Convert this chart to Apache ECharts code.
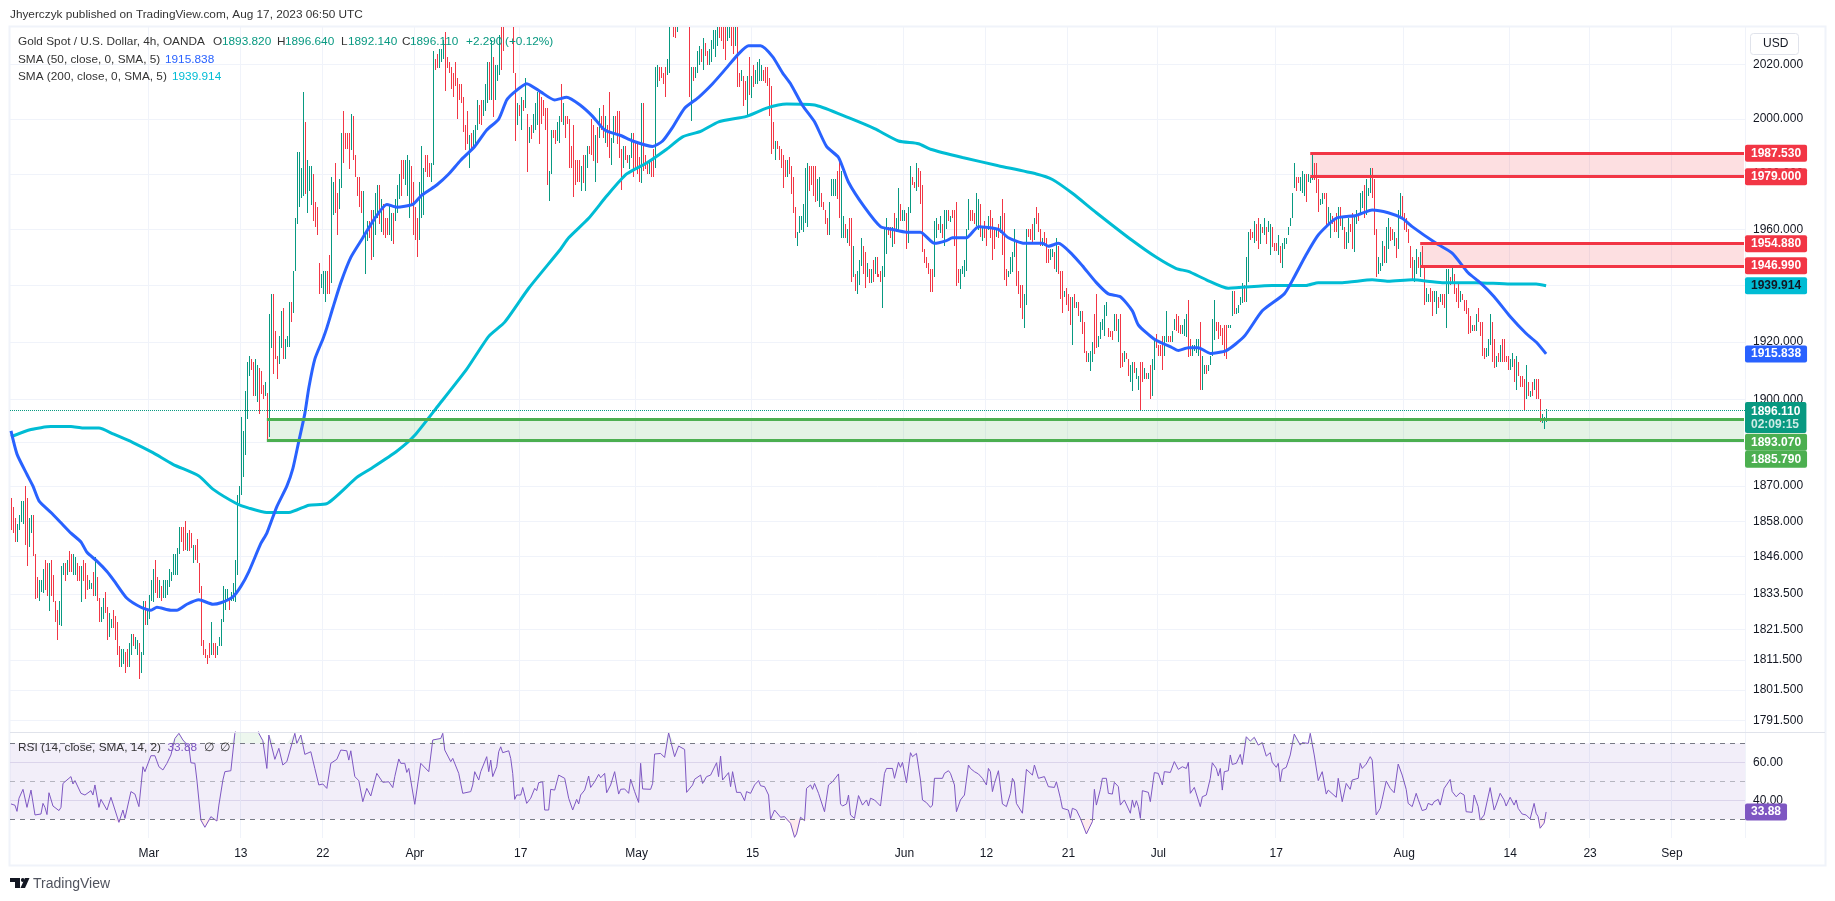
<!DOCTYPE html>
<html>
<head>
<meta charset="utf-8">
<title>Gold Spot / U.S. Dollar, 4h</title>
<script src="https://cdn.jsdelivr.net/npm/echarts@6/dist/echarts.min.js"></script>
<style>
  html, body { margin: 0; padding: 0; background: #fff; }
  #chart { width: 1835px; height: 901px; }
</style>
</head>
<body>
<div id="chart"></div>
<script>
// 4h bars, one row per 10 bars
const barHighs = [
  1866,1863,1859,1857,1860,1865,1865,1870,1866,1859,
  1860,1860,1847,1839,1838,1838,1842,1845,1844,1844,
  1845,1840,1831,1828,1831,1843,1844,1844,1845,1848,
  1847,1847,1846,1844,1843,1843,1845,1844,1840,1838,
  1837,1841,1846,1839,1832,1829,1832,1834,1829,1827,
  1825,1828,1826,1824,1816,1815,1815,1814,1815,1817,
  1820,1820,1819,1818,1817,1814,1831,1831,1828,1833,
  1838,1842,1845,1839,1838,1836,1838,1838,1838,1842,
  1841,1847,1847,1849,1856,1856,1856,1858,1854,1855,
  1854,1850,1850,1852,1844,1836,1818,1815,1813,1817,
  1824,1817,1817,1816,1819,1825,1836,1835,1835,1832,
  1834,1837,1845,1867,1870,1894,1889,1903,1913,1915,
  1914,1913,1914,1912,1911,1910,1905,1906,1902,1930,
  1937,1937,1924,1915,1922,1931,1932,1921,1922,1934,
  1934,1945,1964,1988,1988,1982,2010,1999,1985,1983,
  1983,1980,1970,1968,1948,1944,1945,1945,1945,1951,
  1979,1977,1984,1973,1978,1995,2003,1995,1995,1995,
  2002,2001,1987,1979,1979,1974,1974,1958,1963,1963,
  1967,1967,1973,1976,1976,1971,1969,1964,1964,1969,
  1966,1966,1971,1976,1980,1985,1985,1985,1987,1985,
  1983,1977,1968,1964,1977,1990,1982,1987,1987,1984,
  1984,2025,2022,2024,2026,2026,2029,2032,2023,2021,
  2019,2017,2021,2015,2013,2013,2008,1998,2003,1994,
  1995,1996,1998,2007,2005,2007,2007,2013,2021,2021,
  2029,2023,2020,2020,2031,2034,2034,2042,2044,2048,
  2046,2040,2017,2006,2005,2008,2007,2015,2002,1997,
  1998,2002,2006,2010,2010,2008,2007,2004,2004,1981,
  1996,1996,1996,1999,2001,2013,2006,2001,2001,2000,
  1990,1998,1985,1985,1985,1983,1987,1987,1990,1990,
  2000,1998,1994,1997,2004,2001,2005,2001,1998,2010,
  1993,2001,2001,2003,2003,1989,1990,1990,1987,1987,
  1995,1995,1992,1992,1986,2006,2006,1987,1984,1985,
  1985,1989,2019,2020,2019,2019,2017,2019,2022,2034,
  2041,2038,2037,2037,2043,2044,2048,2047,2046,2040,
  2019,2019,2019,2025,2027,2026,2030,2028,2025,2026,
  2029,2033,2033,2034,2036,2036,2036,2036,2036,2036,
  2036,2036,2036,2036,2017,2018,2016,2014,2016,2023,
  2016,2020,2018,2021,2022,2020,2018,2019,2019,2015,
  2012,1999,1992,1992,1990,1989,1987,1985,1985,1986,
  1983,1979,1968,1959,1965,1965,1969,1982,1984,1983,
  1983,1983,1983,1978,1979,1973,1970,1967,1964,1970,
  1978,1978,1978,1981,1985,1981,1965,1962,1960,1964,
  1964,1954,1944,1945,1949,1957,1954,1952,1948,1946,
  1946,1949,1950,1950,1944,1945,1947,1961,1964,1961,
  1961,1961,1966,1964,1975,1969,1967,1967,1966,1968,
  1983,1979,1977,1984,1982,1981,1976,1953,1950,1948,
  1946,1946,1963,1964,1962,1965,1962,1967,1967,1967,
  1965,1967,1967,1970,1946,1946,1947,1949,1960,1971,
  1967,1967,1966,1973,1971,1969,1961,1963,1960,1965,
  1967,1964,1960,1960,1962,1965,1971,1966,1946,1945,
  1950,1952,1960,1956,1945,1940,1940,1937,1960,1960,
  1960,1962,1964,1968,1966,1960,1957,1959,1957,1953,
  1953,1953,1952,1957,1954,1945,1945,1938,1939,1937,
  1936,1936,1937,1934,1934,1931,1931,1927,1917,1916,
  1917,1920,1930,1937,1922,1927,1928,1933,1934,1925,
  1924,1924,1930,1930,1928,1930,1916,1917,1916,1914,
  1912,1913,1913,1911,1908,1913,1913,1911,1909,1909,
  1912,1914,1921,1923,1919,1919,1922,1922,1931,1922,
  1922,1924,1928,1930,1929,1926,1926,1928,1930,1935,
  1921,1919,1919,1921,1921,1927,1915,1912,1912,1912,
  1915,1928,1935,1927,1927,1926,1925,1926,1926,1926,
  1926,1938,1938,1932,1933,1936,1941,1940,1950,1959,
  1960,1959,1963,1962,1964,1962,1961,1964,1961,1963,
  1962,1961,1955,1955,1958,1954,1955,1957,1957,1961,
  1964,1973,1984,1979,1979,1979,1981,1980,1980,1980,
  1979,1988,1984,1984,1978,1971,1973,1973,1973,1968,
  1966,1965,1963,1966,1968,1968,1965,1961,1959,1964,
  1962,1966,1965,1967,1966,1973,1974,1976,1978,1975,
  1982,1982,1978,1960,1950,1948,1956,1954,1961,1964,
  1961,1960,1959,1957,1967,1973,1972,1966,1964,1960,
  1954,1950,1949,1953,1950,1952,1954,1947,1939,1937,
  1939,1938,1938,1938,1936,1937,1937,1937,1946,1946,
  1943,1947,1944,1939,1941,1938,1937,1935,1935,1932,
  1929,1926,1926,1930,1932,1927,1927,1918,1918,1921,
  1930,1927,1921,1915,1916,1919,1921,1921,1915,1915,
  1914,1916,1914,1915,1913,1908,1908,1907,1912,1906,
  1903,1906,1907,1907,1907,1900,1895,1894,1896.64
];
const barLows = [
  1855,1854,1851,1851,1855,1858,1857,1850,1843,1849,
  1854,1846,1832,1832,1831,1834,1834,1835,1833,1828,
  1833,1831,1824,1818,1823,1823,1840,1838,1840,1841,
  1841,1840,1840,1838,1838,1831,1838,1832,1835,1835,
  1835,1833,1833,1831,1824,1824,1825,1827,1818,1819,
  1822,1822,1818,1813,1809,1809,1810,1807,1809,1809,
  1813,1816,1815,1813,1805,1807,1813,1823,1823,1825,
  1831,1831,1834,1832,1832,1831,1832,1832,1833,1836,
  1838,1840,1840,1840,1847,1851,1848,1848,1848,1848,
  1849,1844,1845,1844,1834,1816,1813,1812,1810,1812,
  1813,1813,1812,1813,1816,1816,1824,1828,1831,1828,
  1831,1831,1831,1840,1864,1867,1873,1881,1893,1908,
  1910,1901,1901,1899,1895,1902,1900,1901,1886,1887,
  1918,1909,1914,1907,1912,1918,1914,1914,1918,1918,
  1927,1930,1945,1962,1968,1971,1972,1973,1966,1974,
  1969,1963,1961,1958,1937,1939,1937,1934,1937,1937,
  1941,1965,1966,1958,1967,1975,1984,1989,1989,1982,
  1989,1985,1979,1972,1968,1966,1958,1944,1956,1957,
  1949,1950,1958,1964,1962,1959,1958,1957,1958,1958,
  1956,1955,1963,1966,1971,1972,1978,1976,1972,1964,
  1969,1958,1956,1950,1956,1964,1965,1981,1979,1979,
  1977,1983,2018,2019,2019,2021,2022,2010,2019,2017,
  2011,2008,2012,2000,2007,2006,1995,1989,1991,1982,
  1989,1989,1990,1996,1998,1998,2001,2003,2006,2007,
  2007,2001,2007,2014,2016,2018,2025,2035,2036,2038,
  2036,2017,1992,1998,2001,1996,2003,2004,1981,1991,
  1993,1995,1996,1998,1991,1998,2001,1996,1976,1970,
  1980,1993,1991,1992,1991,1999,1998,1993,1998,1982,
  1982,1972,1976,1977,1977,1974,1977,1974,1982,1987,
  1987,1985,1977,1984,1993,1996,1993,1991,1990,1986,
  1983,1991,1994,1991,1986,1974,1982,1985,1984,1982,
  1986,1979,1982,1980,1977,1977,1981,1982,1980,1980,
  1979,1979,1982,2012,2014,2015,2013,2008,2016,2017,
  2034,2030,2030,2032,2036,2037,2038,2037,2036,2008,
  1999,2014,2015,2017,2020,2021,2018,2023,2020,2020,
  2021,2026,2023,2027,2030,2029,2026,2022,2029,2030,
  2027,2024,2027,2012,2012,2014,2005,2007,2001,2009,
  2008,2012,2013,2013,2014,2014,2014,2013,2012,2001,
  1987,1989,1985,1989,1985,1982,1975,1979,1979,1980,
  1973,1966,1957,1954,1959,1960,1959,1962,1961,1974,
  1976,1972,1970,1970,1968,1968,1967,1962,1958,1958,
  1972,1972,1972,1971,1964,1957,1957,1957,1955,1954,
  1941,1943,1938,1937,1940,1947,1944,1939,1943,1941,
  1941,1941,1944,1943,1943,1941,1932,1943,1951,1958,
  1957,1954,1955,1959,1960,1963,1963,1963,1953,1955,
  1966,1976,1975,1974,1975,1969,1952,1948,1946,1944,
  1938,1938,1943,1957,1960,1959,1957,1954,1960,1963,
  1963,1964,1954,1940,1941,1939,1944,1943,1945,1960,
  1963,1963,1962,1961,1960,1957,1956,1957,1954,1960,
  1957,1949,1953,1957,1957,1959,1951,1942,1940,1943,
  1944,1945,1950,1940,1937,1932,1928,1925,1933,1957,
  1956,1955,1956,1962,1959,1954,1954,1954,1948,1948,
  1949,1950,1946,1945,1944,1935,1930,1936,1933,1931,
  1926,1919,1932,1932,1929,1927,1923,1916,1913,1913,
  1910,1913,1916,1918,1918,1921,1924,1922,1929,1922,
  1922,1921,1924,1924,1920,1911,1911,1913,1914,1908,
  1906,1903,1909,1907,1903,1896,1906,1907,1907,1907,
  1900,1901,1910,1918,1915,1915,1910,1915,1920,1920,
  1920,1920,1924,1924,1923,1923,1923,1922,1922,1915,
  1915,1915,1917,1916,1915,1903,1903,1909,1909,1910,
  1912,1915,1921,1924,1921,1922,1919,1915,1914,1925,
  1925,1929,1930,1930,1930,1933,1934,1934,1934,1941,
  1956,1957,1955,1956,1953,1955,1959,1958,1955,1959,
  1951,1954,1952,1952,1951,1948,1946,1953,1955,1958,
  1961,1964,1975,1974,1977,1974,1973,1972,1970,1977,
  1977,1978,1978,1973,1966,1969,1969,1971,1961,1962,
  1957,1962,1959,1959,1957,1961,1960,1953,1953,1955,
  1959,1953,1952,1962,1963,1965,1968,1964,1965,1972,
  1973,1971,1958,1943,1944,1945,1947,1948,1948,1953,
  1956,1956,1954,1950,1953,1964,1964,1960,1959,1955,
  1946,1942,1941,1944,1946,1943,1947,1933,1934,1934,
  1934,1929,1934,1930,1932,1934,1933,1932,1925,1937,
  1940,1941,1937,1934,1932,1934,1935,1931,1930,1923,
  1923,1924,1924,1924,1927,1922,1915,1914,1915,1915,
  1919,1913,1911,1911,1913,1913,1913,1913,1913,1910,
  1910,1911,1906,1903,1908,1904,1904,1896,1900,1901,
  1901,1901,1903,1900,1900,1892,1892,1890,1892.14
];
// g = up bar, r = down bar
const barDirs = [
  'rrrggggrrg','grrrgggrrg','rrrrgggrgr','rggrrgrrrg','grgrrggrrg','grrrrggrrg','grggrggrgg','ggrrgrgggg',
  'gggggrrrgr','rgrrrrrrrr','grrggggggr','gggggggggg','rrggrrrgrg','grrrggrggg','rggggggrgg','grrrrgggrr',
  'ggrrggrrrr','grrrrrgggr','rgggrgrrrg','grgggrrggg','rrrrgggrrr','ggrrgggrrr','rrrrrrrrrg','rgggrrgggr',
  'grgggrrggg','rrrgrgrgrg','rgggrrrrrg','grrggrgrrr','rrrrrgrggr','rrgrgrrgrr','ggrrrrgrrg','grrrrgrrrg',
  'rrggrrrrgg','grrgggrgrr','grgggrgrrg','ggggrrrrgg','rrgrrgrrgr','grggggrrrr','rrgrrrrrgr','rrrggggggr',
  'rrrggrrrrg','gggrrggrgr','rgrgggrrgr','grgrrrgggr','rgrggrggrg','grrgrrrrrr','rrggrgrggr','grrrrggggg',
  'rrrggrgrrg','rrrgrgrrrg','gggrrrrggr','rrgrrrgrrr','ggrgrrrgrr','rgrgrgrrrg','ggrrgggggr','rrgrgrrgrr',
  'ggrggrrgrg','rggrrrrggr','rggrrrgggr','rggggrggrg','gggrrrrrrg','ggrggggrgg','rrgrrgrgrg','grrrgrgggg',
  'gggrrgggrg','ggrrrggrrg','grrrgrgrgg','rrggrggrgg','grrrgggrgg','rrgrggrrrr','rrggrgrrgg','rrggrgrrgg',
  'rgrrrgrrrr','rgrgrrrrgg','grrgrgrrrr','ggrgrrrrgr','grgrrrggg'
].join('');

// simple moving averages, read at bends of the lines
const sma50Bars = [0,3,8,11,14,20,25,30,35,38,43,48,52,58,65,70,73,80,83,88,94,101,105,111,115,119,125,128,133,138,141,144,147,149,152,156,158,161,165,170,176,182,188,193,201,205,209,213,219,225,232,238,244,248,252,258,265,272,278,285,291,297,305,311,321,326,331,337,344,351,357,364,369,375,381,386,390,396,402,408,414,419,427,435,441,448,455,462,468,471,478,484,494,499,507,516,519,524,531,536,543,549,555,561,564,572,581,584,589,594,600,608,617,626,637,642,648,654,663,673,681,689,696,701,713,721,729,735,742,750,758,763,768];
const sma50Values = [1889,1881,1874,1870,1865,1861,1857.5,1854,1851,1847.5,1844.5,1841,1837.5,1832,1829,1828,1829,1828,1828,1830,1831.5,1830,1830.5,1832.5,1836,1841,1850.5,1854,1863,1870,1876,1885.5,1895,1904,1914,1921,1925,1932,1941,1950,1957,1964,1969,1968,1969,1972,1974,1976,1980,1985,1990,1996,2000,2007,2010,2013,2010,2007,2008,2005,2001,1996,1994,1992,1990,1992,1997,2004,2008,2013,2018,2024,2027,2027,2023,2017,2013,2005,1999,1990,1986,1977,1968,1961,1960,1959,1959,1955,1956,1957,1957,1961,1960,1957,1955,1955,1954,1955,1951,1947,1941,1937,1936,1931,1926,1921,1918,1917,1918,1918,1916,1917,1922,1931,1937,1943,1951,1958,1964,1965,1967,1966,1964,1961,1955,1951.5,1944.5,1941,1936,1929,1923,1920,1915.838];
const sma200Bars = [0,10,20,30,36,44,51,61,71,81,94,101,113,119,128,139,149,158,173,180,193,202,214,228,239,247,259,275,279,289,298,308,318,328,336,345,354,368,378,388,403,419,432,444,454,460,476,494,513,521,531,543,561,573,583,589,598,609,631,648,654,666,681,689,701,716,733,750,763,768];
const sma200Values = [1887,1889.5,1890.5,1890.5,1890,1890,1888,1885,1881.5,1877.5,1873.5,1869,1864,1862.5,1861,1861,1863.5,1864,1873,1876,1882,1887.5,1898,1910.5,1922,1927,1939,1953,1957,1964,1972,1980,1984,1989,1993.5,1995.5,1999,2001,2004,2005.5,2005,2000.5,1996.5,1992,1991,1989,1986,1983,1980,1978,1973,1966,1956,1950,1946,1945,1942,1939,1940,1940,1941,1941,1942,1941.5,1942,1941,1941,1940.5,1940.5,1939.914];

// RSI(14), read at its turning points
const rsiBars = [0,2,3,4,6,7,8,10,12,13,15,16,17,18,19,21,24,25,26,27,28,30,31,32,35,37,40,41,42,44,45,48,50,54,56,57,60,62,64,66,67,70,72,74,76,78,80,82,84,86,89,90,92,93,95,97,98,100,103,104,106,107,110,112,114,119,123,124,126,127,128,129,132,133,134,136,138,142,143,145,147,150,152,154,156,158,160,163,165,168,169,170,172,174,176,178,180,183,186,189,191,192,194,195,197,198,199,202,205,209,210,211,215,216,217,220,221,224,226,227,230,231,232,234,235,236,238,239,240,241,243,244,245,246,249,250,251,252,253,255,256,258,260,262,263,264,266,267,269,270,272,274,277,279,280,281,283,284,285,287,289,290,292,293,294,295,297,298,300,302,303,304,305,307,309,310,312,313,314,315,316,320,321,322,325,327,329,330,332,333,334,337,338,341,342,345,346,348,350,353,354,355,356,359,360,361,363,365,367,368,370,372,374,375,377,379,380,382,383,385,387,390,392,393,395,397,398,400,401,402,404,407,408,409,411,414,415,416,418,419,420,422,424,426,428,429,430,432,435,437,438,441,442,444,445,446,448,450,451,453,455,456,458,460,461,462,463,466,467,469,470,472,473,474,475,477,479,480,482,484,486,488,489,490,491,492,494,496,498,500,501,502,503,506,508,511,512,513,514,517,519,522,523,525,526,529,530,531,533,535,538,541,542,543,545,546,548,549,551,552,554,555,557,560,561,562,563,564,565,566,569,570,572,574,576,577,580,582,584,586,588,589,590,592,593,595,596,598,600,601,603,604,605,606,607,609,610,611,613,615,616,618,620,622,624,626,627,628,630,631,633,634,635,636,638,640,642,643,645,646,649,650,652,654,656,658,659,663,664,666,667,668,670,671,674,675,676,678,680,681,683,685,686,688,690,692,694,696,698,699,701,703,704,706,708,709,711,712,714,715,717,720,721,722,723,725,727,728,731,732,734,735,736,737,738,740,742,743,744,745,747,748,750,752,753,754,756,758,760,762,763,764,765,767,768];
const rsiValues = [38.1,37.4,34.2,41.1,45.8,46,36.3,45.4,32.3,31.4,32.8,38.4,36.3,32.5,44,37,34.6,36.3,48.9,47.9,50.7,52.5,48.6,50.4,43.7,42.8,45.1,42.8,48.1,36.3,40.5,34.9,41.6,28.4,34.9,30.5,44.6,43.3,36.7,57.7,55.1,63.5,63.5,57.7,56,59.5,63.9,72.6,75.3,71.8,68.2,59.8,59.5,50.7,29.6,25.8,25.8,31.4,29.1,37.5,50.7,55.1,55.6,75.3,82,85,80,75.3,71.4,70.4,56.8,74.4,61.6,62.1,67.4,58.6,60.4,75.3,70,74.4,64.2,65.6,56.8,48.1,48.6,46.3,59.5,61.6,66.5,66.1,61.2,66.1,52.5,50.4,39.3,46.3,42.3,54.2,49.5,49.8,46.7,52.5,61.8,59.5,59.5,54.7,56.8,37.9,59.5,55.1,56,71.8,72.6,75.3,66.5,60.4,62.1,54.2,43.7,42.8,44.6,48.1,55.1,50.7,55.1,54.2,63,55.1,61.2,52.5,57.7,65.6,68.2,65.1,66.1,62.1,54.2,40.5,42.8,42.8,46.8,38.4,41.1,46.3,45.1,49.3,49.8,34.9,34.9,45.8,45.4,53.3,51.6,41.1,41.1,34.9,40.5,38.1,42.8,45.4,52.8,46.8,49.8,48.9,53.7,51.9,54.2,44,48.1,55.1,54.6,43.3,45.8,46,43.7,51.1,44.6,44.6,38.9,59.5,46,45.8,48.9,64.4,64.7,62.6,75.6,75.3,63,63.9,68.6,66.8,44.2,48.1,51.1,53.3,48.9,52.5,53.3,59.8,52.5,63.3,50.7,54.6,47.2,55.1,44.2,44.2,39.8,44.6,43.7,48.1,50.4,47.7,47.2,42.8,30,34.9,34.4,31.1,31.4,27.9,20.5,22.3,31.1,29.3,46.3,48.1,45.8,48.9,43.7,34,34,48.1,49.8,53.9,38.1,37,38.1,42.8,32.3,30.5,42.5,37.5,40.2,37,41.1,40.2,37,54.2,56.8,56.8,51.6,60,57.4,60,49.3,65.1,63,64.7,50.7,40.2,38.8,36.3,37.5,51.6,52.5,51.6,54.2,55.6,54.2,48.1,34,33.2,40.2,42.8,58.6,56.8,55.1,53.9,51.6,48.1,56.8,55.1,44.6,48.9,55.6,38.1,36.7,43.7,51.6,49.8,38.4,33.2,56.3,53.3,58.6,58.2,51.6,52.5,47.2,46.8,49.8,41.1,35.8,34.9,30.5,35.8,34.9,30.5,22.3,28.8,45.8,37.5,45.8,51.6,51.6,43.7,43.3,49.5,47.2,37.5,40.2,33.2,40.2,36.3,39.8,36.7,30.5,45.1,44.2,39.3,54.6,54.2,48.1,55.1,54.7,60.4,56.3,57.7,56.8,60,43.7,46.8,47.2,36.7,41.9,42.8,51.6,59.8,56.8,52.8,56.8,45.4,55.1,55.6,63.9,58.9,59.5,64.2,58.9,73.5,71.2,73.2,69.1,70.4,69.6,63.3,65.1,60,57.4,59.5,49.8,56.3,57.4,63.9,74.9,74.9,69.1,70.4,70,75.3,63.9,50.4,55.1,43.3,45.4,41.6,51.6,39.3,39.8,48.9,45.8,50.7,51.6,59.5,56.8,59.1,63,61.2,32.3,35.8,40.5,50.2,46.3,44,59.1,53.3,45.8,38.4,36.7,43.7,40.5,34.6,35.3,38.4,37.5,39.3,40.5,37.5,46.3,51,44.6,45.1,41.9,44,42.8,34,33.7,42.8,36.7,29.6,29.1,32.3,32.8,46.7,34.9,37.5,37.2,43.7,40.2,37,41.6,37.5,40.2,35.8,32.8,32.3,30.2,38.4,33.2,31.4,25.3,28,33.88];

// axis ticks
const priceTicks = [2020,2000,1980,1960,1940,1920,1900,1885,1870,1858,1846,1833.5,1821.5,1811.5,1801.5,1791.5];
const rsiTicks = [40,60];
const timeTickBars = [69,115,156,202,255,313,371,447,488,529,574,633,697,750,790,831];
const timeTickLabels = ['Mar','13','22','Apr','17','May','15','Jun','12','21','Jul','17','Aug','14','23','Sep'];

// drawn zones: [first bar, upper price, lower price]
const resistanceZones = [[650,1987.53,1979],[705,1954.88,1946.99]];
const supportZones = [[128,1893.07,1885.79]];

const lastClose = 1896.11;
const sma50Last = 1915.838;
const sma200Last = 1939.914;
const rsiLast = 33.88;
const axisBarCount = 868;

const UP = '#089981', DOWN = '#F23645', GREEN = '#4CAF50', BLUE = '#2962FF', CYAN = '#00BCD4', PURPLE = '#7E57C2';
const GRID_LINE = '#f0f3fa', TEXT = '#131722', LEGEND = '#333';
const FONT = '"Liberation Sans", Arial, sans-serif';
const LEGEND_FONT = '11.8px ' + FONT;

const barNames = Array.from({ length: axisBarCount }, (_, i) => String(i));
const barData = barHighs.map((h, i) => [i, barLows[i], h, barDirs[i] === 'g' ? 1 : 0]);
const pairs = (xs, ys) => xs.map((x, i) => [x, ys[i]]);
const isTimeTick = i => timeTickBars.includes(i);
const lastBar = axisBarCount - 1;

// 1px bar from low to high, snapped to the pixel grid so it stays crisp
const renderBar = (params, api) => {
  const top = api.coord([api.value(0), api.value(2)]);
  const bottom = api.coord([api.value(0), api.value(1)]);
  return {
    type: 'rect',
    shape: { x: Math.round(top[0]), y: Math.round(top[1]), width: 1, height: Math.max(1, Math.round(bottom[1] - top[1])) },
    style: { fill: api.value(3) ? UP : DOWN }
  };
};

// tag on the price scale sitting at the end of a horizontal mark line
const priceTag = (value, text, bg, fg, offsetY, extra) => ({
  yAxis: value,
  lineStyle: { color: 'transparent', width: 0 },
  label: Object.assign({
    show: true,
    position: 'end',
    distance: 0,
    offset: [0, offsetY || 0],
    formatter: text,
    backgroundColor: bg,
    color: fg || '#fff',
    padding: [3, 6, 2, 6],
    borderRadius: 2,
    fontSize: 12,
    fontWeight: 'bold',
    fontFamily: FONT,
    opacity: 1
  }, extra)
});

const zoneEdges = (zones, color) => zones.flatMap(([start, top, bottom]) => [top, bottom].map(v => [
  { xAxis: start, yAxis: v, lineStyle: { color, width: 3, type: 'solid' } },
  { xAxis: lastBar, yAxis: v }
]));
const zoneFills = (zones, color) => zones.map(([start, top, bottom]) => [
  { xAxis: start, yAxis: top, itemStyle: { color } },
  { xAxis: lastBar, yAxis: bottom }
]);

// status line, placed piece by piece like the original header
const statusPieces = [
  [18, 'Gold Spot / U.S. Dollar, 4h, OANDA', LEGEND], [213, 'O', LEGEND], [222, '1893.820', UP], [277, 'H', LEGEND], [285, '1896.640', UP],
  [341, 'L', LEGEND], [348, '1892.140', UP], [402, 'C', LEGEND], [410, '1896.110', UP], [466, '+2.290', UP], [505, '(+0.12%)', UP],
  [18, 'SMA (50, close, 0, SMA, 5)', LEGEND, 1], [165, '1915.838', BLUE, 1],
  [18, 'SMA (200, close, 0, SMA, 5)', LEGEND, 2], [172, '1939.914', CYAN, 2]
];

const chart = echarts.init(document.getElementById('chart'));
chart.setOption({
  animation: false,
  backgroundColor: '#fff',
  textStyle: { fontFamily: FONT },
  grid: [
    { left: 10, top: 27, width: 1735, height: 705 },
    { left: 10, top: 732, width: 1735, height: 106 }
  ],
  xAxis: [
    {
      type: 'category', gridIndex: 0, data: barNames,
      axisLine: { show: false }, axisTick: { show: false }, axisLabel: { show: false },
      splitLine: { show: true, interval: isTimeTick, lineStyle: { color: GRID_LINE } }
    },
    {
      type: 'category', gridIndex: 1, data: barNames,
      axisLine: { show: false }, axisTick: { show: false },
      axisLabel: {
        interval: isTimeTick,
        formatter: (v, i) => timeTickLabels[timeTickBars.indexOf(i)],
        color: TEXT, fontSize: 12, margin: 10, fontFamily: FONT
      },
      splitLine: { show: true, interval: isTimeTick, lineStyle: { color: GRID_LINE } }
    }
  ],
  yAxis: [
    {
      type: 'log', gridIndex: 0, position: 'right', min: 1787.7, max: 2034,
      axisLine: { show: false },
      axisTick: { show: false, customValues: priceTicks },
      axisLabel: { customValues: priceTicks, formatter: v => Number(v).toFixed(3), color: TEXT, fontSize: 12, margin: 8, fontFamily: FONT },
      splitLine: { show: true, lineStyle: { color: GRID_LINE } }
    },
    {
      type: 'value', gridIndex: 1, position: 'right', min: 20.16, max: 76,
      axisLine: { show: false },
      axisTick: { show: false, customValues: rsiTicks },
      axisLabel: { customValues: rsiTicks, formatter: v => Number(v).toFixed(2), color: TEXT, fontSize: 12, margin: 8, fontFamily: FONT },
      splitLine: { show: true, lineStyle: { color: '#e6e3f0' } }
    }
  ],
  series: [
    {
      name: 'zones', type: 'line', data: [], silent: true, z: 1,
      markArea: { silent: true, data: [...zoneFills(resistanceZones, 'rgba(242,54,69,0.16)'), ...zoneFills(supportZones, 'rgba(76,175,80,0.15)')] }
    },
    {
      name: 'XAUUSD', type: 'custom', data: barData, renderItem: renderBar, clip: true, silent: true, z: 2,
      encode: { x: 0, y: [1, 2] }
    },
    {
      name: 'SMA 200', type: 'line', data: pairs(sma200Bars, sma200Values), smooth: 0.2, showSymbol: false, silent: true, z: 3,
      lineStyle: { color: CYAN, width: 3 }
    },
    {
      name: 'SMA 50', type: 'line', data: pairs(sma50Bars, sma50Values), smooth: 0.2, showSymbol: false, silent: true, z: 3,
      lineStyle: { color: BLUE, width: 3 }
    },
    {
      // zone edges, last price line and the tags on the price scale
      name: 'levels', type: 'line', data: [], silent: true, z: 4,
      markLine: {
        silent: true, symbol: 'none', animation: false,
        label: { show: false },
        data: [
          ...zoneEdges(resistanceZones, DOWN),
          ...zoneEdges(supportZones, GREEN),
          { yAxis: lastClose, lineStyle: { color: UP, width: 1, type: 'dotted' }, label: { show: false } },
          priceTag(1987.53, '1987.530', DOWN),
          priceTag(1979, '1979.000', DOWN),
          priceTag(1954.88, '1954.880', DOWN),
          priceTag(1946.99, '1946.990', DOWN),
          priceTag(sma200Last, '1939.914', CYAN, TEXT),
          priceTag(sma50Last, '1915.838', BLUE),
          priceTag(1893.07, '1893.070', GREEN, '#fff', 23),
          priceTag(1885.79, '1885.790', GREEN, '#fff', 19),
          priceTag(lastClose, '{p|1896.110}\n{t|02:09:15}', UP, '#fff', 7, {
            rich: {
              p: { color: '#fff', fontSize: 12, fontWeight: 'bold', fontFamily: FONT, lineHeight: 13 },
              t: { color: 'rgba(255,255,255,0.8)', fontSize: 12, fontFamily: FONT, lineHeight: 13 }
            }
          })
        ]
      }
    },
    {
      name: 'RSI band', type: 'line', xAxisIndex: 1, yAxisIndex: 1, data: [], silent: true, z: 1,
      markArea: {
        silent: true,
        itemStyle: { color: 'rgba(126,87,194,0.1)' },
        data: [[{ yAxis: 70 }, { yAxis: 30 }]]
      },
      markLine: {
        silent: true, symbol: 'none', animation: false, label: { show: false },
        data: [
          { yAxis: 70, lineStyle: { color: '#787B86', type: [5, 5], width: 1 } },
          { yAxis: 50, lineStyle: { color: 'rgba(120,123,134,0.5)', type: [5, 5], width: 1 } },
          { yAxis: 30, lineStyle: { color: '#787B86', type: [5, 5], width: 1 } }
        ]
      }
    },
    {
      name: 'RSI overbought', type: 'line', xAxisIndex: 1, yAxisIndex: 1, silent: true, z: 2,
      data: pairs(rsiBars, rsiValues.map(v => Math.max(v, 70))), showSymbol: false,
      lineStyle: { width: 0 }, areaStyle: { origin: 70, color: 'rgba(76,175,80,0.14)' }
    },
    {
      name: 'RSI oversold', type: 'line', xAxisIndex: 1, yAxisIndex: 1, silent: true, z: 2,
      data: pairs(rsiBars, rsiValues.map(v => Math.min(v, 30))), showSymbol: false,
      lineStyle: { width: 0 }, areaStyle: { origin: 30, color: 'rgba(242,54,69,0.14)' }
    },
    {
      name: 'RSI', type: 'line', xAxisIndex: 1, yAxisIndex: 1, silent: true, z: 3,
      data: pairs(rsiBars, rsiValues), showSymbol: false,
      lineStyle: { color: PURPLE, width: 1 },
      markLine: {
        silent: true, symbol: 'none', animation: false, label: { show: false },
        data: [priceTag(rsiLast, '33.88', PURPLE)]
      }
    }
  ],
  graphic: [
    // outer frame and pane separator
    { type: 'rect', z: -1, silent: true, shape: { x: 9.5, y: 26.5, width: 1816, height: 839 }, style: { fill: 'none', stroke: GRID_LINE, lineWidth: 2 } },
    { type: 'line', z: 10, silent: true, shape: { x1: 10, y1: 732.5, x2: 1825, y2: 732.5 }, style: { stroke: '#e0e3eb', lineWidth: 1 } },
    // header
    { type: 'text', left: 10, top: 9, silent: true, style: { text: 'Jhyerczyk published on TradingView.com, Aug 17, 2023 06:50 UTC', fill: LEGEND, font: LEGEND_FONT } },
    // status lines
    ...statusPieces.map(([x, text, fill, row]) => ({
      type: 'text', left: x, top: 36 + (row || 0) * 17.3, z: 20, silent: true,
      style: { text, fill, font: LEGEND_FONT }
    })),
    {
      type: 'text', left: 18, top: 742, z: 20, silent: true,
      style: { text: '{k|RSI (14, close, SMA, 14, 2)}  {v|33.88}  {k|\u2205  \u2205}', font: LEGEND_FONT, rich: { k: { fill: LEGEND, font: LEGEND_FONT }, v: { fill: PURPLE, font: LEGEND_FONT } } }
    },
    // currency button
    { type: 'rect', z: 20, silent: true, shape: { x: 1750.5, y: 33.5, width: 48, height: 21, r: 3 }, style: { fill: '#fff', stroke: '#e0e3eb', lineWidth: 1 } },
    { type: 'text', z: 21, left: 1763, top: 38, silent: true, style: { text: 'USD', fill: TEXT, font: '12px ' + FONT } },
    // TradingView mark
    { type: 'polygon', silent: true, shape: { points: [[10, 878], [20, 878], [20, 888], [15, 888], [15, 882], [10, 882]] }, style: { fill: TEXT } },
    { type: 'circle', silent: true, shape: { cx: 22.8, cy: 880, r: 1.9 }, style: { fill: TEXT } },
    { type: 'polygon', silent: true, shape: { points: [[25, 878], [29.5, 878], [25, 888], [20.5, 888]] }, style: { fill: TEXT } },
    { type: 'text', left: 33, top: 877, silent: true, style: { text: 'TradingView', fill: '#50535e', font: '14px ' + FONT } }
  ]
});
</script>
</body>
</html>
